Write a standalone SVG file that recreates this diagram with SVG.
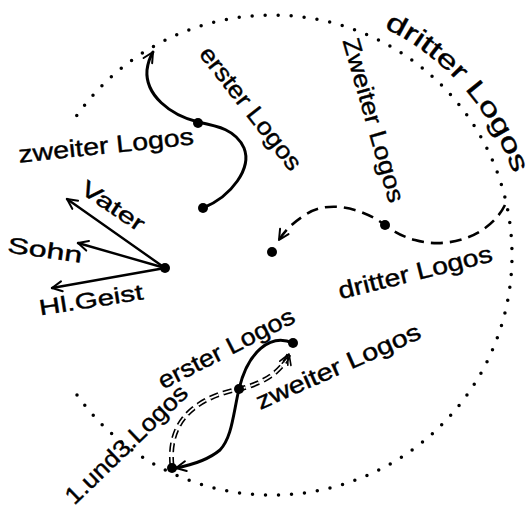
<svg xmlns="http://www.w3.org/2000/svg" width="531" height="508" viewBox="0 0 531 508">
<defs>
<marker id="arr" viewBox="-12 -7 14 14" markerWidth="14" markerHeight="14" refX="0" refY="0" orient="auto" markerUnits="userSpaceOnUse">
<path d="M-10,-5 L0,0 L-10,5" fill="none" stroke="#000" stroke-width="2" stroke-linecap="round" stroke-linejoin="round"/>
</marker>
<marker id="arr2" viewBox="-12 -8 14 16" markerWidth="14" markerHeight="16" refX="0" refY="0" orient="auto" markerUnits="userSpaceOnUse">
<path d="M-10,-6 L0,0 L-10,6 M-11,-3 L-3,0 L-11,3" fill="none" stroke="#000" stroke-width="1.6" stroke-linecap="round" stroke-linejoin="round"/>
</marker>
<path id="outerArc" d="M368.1,20.5 A254,254 0 0 1 518.3,190.3" fill="none"/>
</defs>
<style>
.t{font-family:"Liberation Sans",Arial,sans-serif;font-size:24px;fill:#000;stroke:#000;stroke-width:0.4;text-anchor:middle;dominant-baseline:central}
.tp{font-family:"Liberation Sans",Arial,sans-serif;font-size:26px;fill:#000;stroke:#000;stroke-width:0.4;text-anchor:middle}
.s{fill:none;stroke:#000;stroke-width:3;stroke-linecap:round;stroke-linejoin:round}
.a{fill:none;stroke:#000;stroke-width:2.4;stroke-linecap:round}
.dot{fill:none;stroke:#000;stroke-width:3.5;stroke-linecap:round;stroke-dasharray:0 13}
.dash{fill:none;stroke:#000;stroke-width:2.6;stroke-dasharray:12 7}
.n{fill:#000}
</style>
<g id="connectors">
<path id="circle" class="dot" d="M77,395 A240,240 0 1 0 75,118"/>
<path class="s" d="M203,208 C232,196 252,168 244,148 C236,130 218,126 198,122 C170,115 145,95 147,70 C148,62 150,57 153,52" marker-end="url(#arr)"/>
<path class="a" d="M165,268 L67,199" marker-end="url(#arr)"/>
<path class="a" d="M165,268 L78,243" marker-end="url(#arr)"/>
<path class="a" d="M165,268 L52,288" marker-end="url(#arr)"/>
<path class="dash" d="M505,205 C490,235 450,250 415,240 C400,236 392,230 385,225 C365,210 330,198 305,215 C292,223 284,232 279,240" marker-end="url(#arr)"/>
<path fill="none" stroke="#000" stroke-width="5" stroke-dasharray="9 5" d="M172,466 C168,430 185,400 239,389 C262,384 282,372 289,354"/>
<path fill="none" stroke="#fff" stroke-width="1.8" stroke-dasharray="9 5" d="M172,466 C168,430 185,400 239,389 C262,384 282,372 289,354" marker-end="url(#arr2)"/>
<path class="s" d="M293,343 C270,333 248,352 239,389 C233,415 232,437 220,450 C208,460 192,465 176,468" marker-end="url(#arr)"/>
</g>
<g id="node-erster-mid"><circle class="n" cx="198" cy="123" r="5"/></g>
<g id="node-erster-start"><circle class="n" cx="203" cy="208" r="5"/></g>
<g id="node-vater"><circle class="n" cx="165" cy="268" r="5"/></g>
<g id="node-dritter-mid"><circle class="n" cx="385" cy="225" r="5"/></g>
<g id="node-center"><circle class="n" cx="272" cy="252" r="5"/></g>
<g id="node-eight-top"><circle class="n" cx="293" cy="343" r="5"/></g>
<g id="node-eight-mid"><circle class="n" cx="239" cy="389" r="5"/></g>
<g id="node-eight-bottom"><circle class="n" cx="172" cy="468" r="5"/></g>
<g id="labels">
<text class="t" transform="translate(251,108) rotate(52)" textLength="150" lengthAdjust="spacingAndGlyphs">erster Logos</text>
<text class="t" transform="translate(374,120) rotate(74)" textLength="170" lengthAdjust="spacingAndGlyphs">Zweiter Logos</text>
<text class="tp"><textPath href="#outerArc" startOffset="50%" textLength="200" lengthAdjust="spacingAndGlyphs">dritter Logos</textPath></text>
<text class="t" transform="translate(415,272) rotate(-14)" textLength="158" lengthAdjust="spacingAndGlyphs">dritter Logos</text>
<text class="t" transform="translate(106,145) rotate(-6)" textLength="176" lengthAdjust="spacingAndGlyphs">zweiter Logos</text>
<text class="t" style="font-size:22px" transform="translate(113,206) rotate(34)" textLength="72" lengthAdjust="spacingAndGlyphs">Vater</text>
<text class="t" style="font-size:22px" transform="translate(45,250) rotate(8)" textLength="75" lengthAdjust="spacingAndGlyphs">Sohn</text>
<text class="t" style="font-size:22px" transform="translate(91,300) rotate(-9)" textLength="105" lengthAdjust="spacingAndGlyphs">Hl.Geist</text>
<text class="t" transform="translate(226,348) rotate(-27)" textLength="150" lengthAdjust="spacingAndGlyphs">erster Logos</text>
<text class="t" transform="translate(338,366) rotate(-24)" textLength="178" lengthAdjust="spacingAndGlyphs">zweiter Logos</text>
<text class="t" transform="translate(126,444) rotate(-44)" textLength="160" lengthAdjust="spacingAndGlyphs">1.und3.Logos</text>
</g>
</svg>
